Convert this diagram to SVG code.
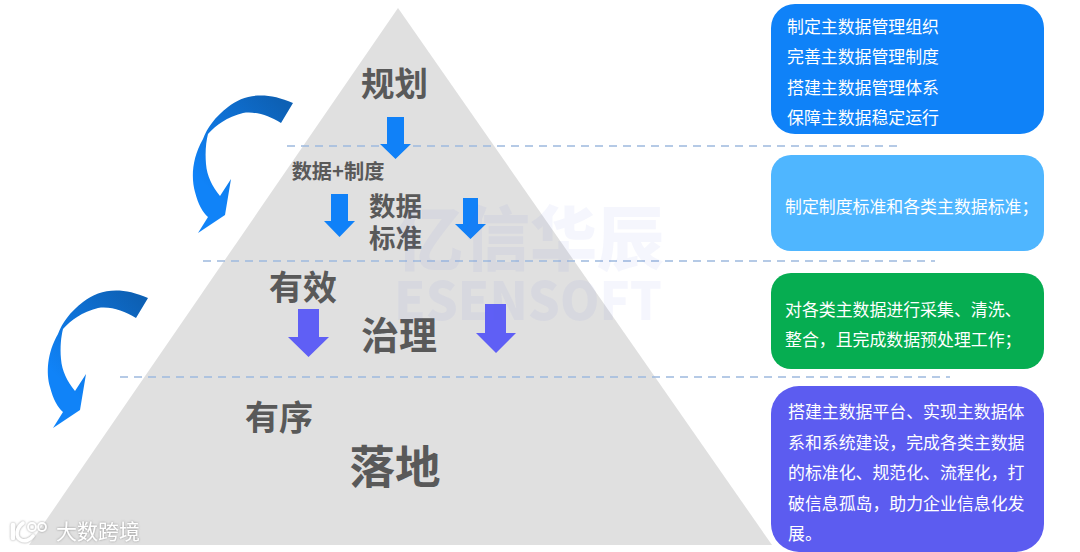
<svg xmlns="http://www.w3.org/2000/svg" width="1080" height="552" viewBox="0 0 1080 552">
<style>
text{font-family:"Noto Sans CJK SC","Liberation Sans",sans-serif}
.t{fill:#595959;font-weight:700;text-anchor:middle}
.b{fill:#fff;font-size:16.9px}
.d{fill:none;stroke:#9db9de;stroke-width:1.5;stroke-dasharray:8 6}
.ab{fill:#1081f8}.ap{fill:#5f5ff5}
.w{fill:#5a64dc;fill-opacity:.06;font-weight:900;text-anchor:middle}
</style>
<defs>
<linearGradient id="g" gradientUnits="userSpaceOnUse" x1="280" y1="100" x2="200" y2="180"><stop offset="0" stop-color="#0d60b4"/><stop offset="1" stop-color="#1083f8"/></linearGradient>
<path id="curve" fill="url(#g)" d="M293 103C266 91 244 94 228 107C215 117 207 128 203 139C192 158 191 178 195 192C198 204 203 213 208 217L198 233L225 215L231 179L220 196C212 186 207 176 206 164C205 152 206 142 208 134C216 125 227 117 243 113C256 111 269 116 281 123Z"/>
<filter id="halo" x="-10%" y="-30%" width="120%" height="160%"><feDropShadow dx="0" dy="0" stdDeviation="1" flood-color="#777" flood-opacity=".8"/></filter>
</defs>
<rect width="1080" height="552" fill="#fff"/>
<polygon id="pyramid" points="398,8 772,545 29,545" fill="#e0e0e0"/>
<g id="connectors">
<line class="d" x1="287" y1="146" x2="897" y2="146"/>
<line class="d" x1="203" y1="261" x2="935" y2="261"/>
<line class="d" x1="120" y1="377" x2="950" y2="377"/>
<use href="#curve"/>
<use href="#curve" transform="translate(-145 195)"/>
<polygon class="ab" points="387,117 404,117 404,144 411,144 395.500,159 380,144 387,144"/>
<polygon class="ab" points="331,194 348,194 348,221 355,221 339.500,237 324,221 331,221"/>
<polygon class="ab" points="463,198 478,198 478,224 486,224 470.500,239 455,224 463,224"/>
<polygon class="ap" points="298,309 319,309 319,337 329,337 308.500,357 288,337 298,337"/>
<polygon class="ap" points="485,304 506,304 506,333 516,333 496,353 476,333 485,333"/>
</g>
<g id="labels">
<text class="t" x="394.500" y="96" font-size="33.500">规划</text>
<text class="t" x="338" y="179" font-size="20.200">数据+制度</text>
<text class="t" x="395.500" y="216" font-size="26.500">数据</text>
<text class="t" x="395.500" y="248" font-size="26.500">标准</text>
<text class="t" x="303" y="300" font-size="34">有效</text>
<text class="t" x="399" y="349" font-size="38">治理</text>
<text class="t" x="279" y="430" font-size="34">有序</text>
<text class="t" x="395" y="484" font-size="45.500">落地</text>
</g>
<g id="watermark">
<text class="w" x="530" y="265" font-size="70" textLength="268" lengthAdjust="spacingAndGlyphs">亿信华辰</text>
<text class="w" x="528" y="320" font-size="52" textLength="268" lengthAdjust="spacingAndGlyphs">ESENSOFT</text>
</g>
<g id="node-1"><rect x="771" y="4" width="273" height="130" rx="24" fill="#0f82f8"/>
<text class="b" x="787" y="33">制定主数据管理组织</text><text class="b" x="787" y="63">完善主数据管理制度</text><text class="b" x="787" y="94">搭建主数据管理体系</text><text class="b" x="787" y="124">保障主数据稳定运行</text></g>
<g id="node-2"><rect x="771" y="155" width="273" height="96" rx="20" fill="#4fb6ff"/>
<text class="b" x="785" y="213">制定制度标准和各类主数据标准；</text></g>
<g id="node-3"><rect x="771" y="273" width="273" height="96" rx="20" fill="#06ad51"/>
<text class="b" x="785" y="316">对各类主数据进行采集、清洗、</text><text class="b" x="785" y="346">整合，且完成数据预处理工作；</text></g>
<g id="node-4"><rect x="771" y="386" width="273" height="166" rx="28" fill="#5c5cf0"/>
<text class="b" x="788" y="418">搭建主数据平台、实现主数据体</text><text class="b" x="788" y="449">系和系统建设，完成各类主数据</text><text class="b" x="788" y="479">的标准化、规范化、流程化，打</text><text class="b" x="788" y="510">破信息孤岛，助力企业信息化发</text><text class="b" x="788" y="540">展。</text></g>
<g id="logo" filter="url(#halo)">
<g fill="none" stroke="#fff" stroke-linecap="round">
<path d="M13 525V538" stroke-width="4.500"/>
<path d="M23 523C16 528 15 537 21 540C25 542 30 540 33 536" stroke-width="3.500"/>
<circle cx="32" cy="527" r="4" stroke-width="1.800"/>
<circle cx="42" cy="527" r="4" stroke-width="1.800"/>
</g>
<text x="56" y="539" font-size="21" fill="#fff">大数跨境</text>
</g>
</svg>
